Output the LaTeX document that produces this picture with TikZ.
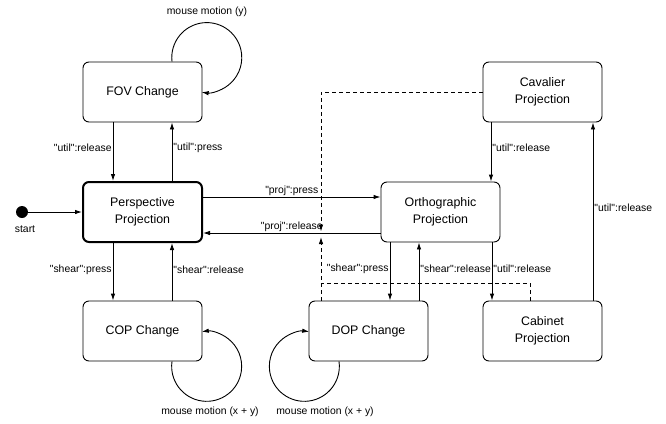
\documentclass[tikz,border=0pt]{standalone}
\usepackage{fontspec}
\setmainfont{Liberation Sans}[Ligatures=TeXOff]
\usetikzlibrary{arrows.meta}

\tikzset{
    state/.style={draw, line width=0.9pt, rounded corners=6pt, minimum width=119pt, minimum height=60pt, align=center, inner sep=2pt, font=\fontsize{12.4}{16.5}\selectfont},
    trans/.style={line width=0.9pt, -{Latex[length=7pt, width=4.5pt]}},
    note/.style={line width=0.9pt, dash pattern=on 4pt off 3pt},
    lbl/.style={font=\fontsize{10.4}{12}\selectfont, inner sep=1pt},
}

\begin{document}
\begin{tikzpicture}[x=1pt, y=-1pt]
    \useasboundingbox (0,0) rectangle (666,423);

    \node[state] (fov) at (142.5, 92) {FOV Change};
    \node[state, line width=2pt] (persp) at (142.5, 212) {Perspective\\Projection};
    \node[state] (cop) at (142.5, 331) {COP Change};
    \node[state] (ortho) at (440.5, 212) {Orthographic\\Projection};
    \node[state] (cav) at (542.5, 92) {Cavalier\\Projection};
    \node[state] (dop) at (368.5, 331) {DOP Change};
    \node[state] (cab) at (542.5, 331) {Cabinet\\Projection};

    \node[circle, fill, inner sep=0pt, minimum size=12pt] (start) at (22, 212) {};
    \node[lbl] (startlbl) at (25, 229) {start};
    \draw[trans] (start) -- (persp);

    % FOV <-> Perspective
    \draw[trans] ([xshift=-29.5pt]fov.south) -- ([xshift=-29.5pt]persp.north) node[lbl, pos=0.43, anchor=east] (utilrel1) {"util":release};
    \draw[trans] ([xshift=29.5pt]persp.north) -- ([xshift=29.5pt]fov.south) node[lbl, pos=0.57, anchor=west] (utilpress) {"util":press};

    % FOV loop
    \draw[trans] ([xshift=29.5pt]fov.north) arc[start angle=173.5, end angle=458.4, radius=35];
    \node[lbl] (fovloop) at (207, 12) {mouse motion (y)};

    % Perspective <-> Orthographic
    \draw[trans] ([yshift=15pt]persp.east) -- ([yshift=15pt]persp.east -| ortho.west) node[lbl, midway, above] (projpress) {"proj":press};
    \draw[trans] ([yshift=-21pt]ortho.west) -- ([yshift=-21pt]persp.east) node[lbl, midway, above] (projrel) {"proj":release};

    % Perspective <-> COP
    \draw[trans] ([xshift=-29.5pt]persp.south) -- ([xshift=-29.5pt]cop.north) node[lbl, pos=0.46, anchor=east] (shearpress1) {"shear":press};
    \draw[trans] ([xshift=29.5pt]cop.north) -- ([xshift=29.5pt]persp.south) node[lbl, pos=0.54, anchor=west] (shearrel1) {"shear":release};

    % COP loop
    \draw[trans] ([xshift=29.5pt]cop.south) arc[start angle=188, end angle=-98, radius=35];
    \node[lbl] (coploop) at (210, 412) {mouse motion (x + y)};

    % Orthographic <-> DOP
    \draw[trans] ([xshift=-50.5pt]ortho.south) -- ([xshift=-50.5pt]ortho.south |- dop.north) node[lbl, pos=0.46, anchor=east] (shearpress2) {"shear":press};
    \draw[trans] ([xshift=-21.5pt]ortho.south |- dop.north) -- ([xshift=-21.5pt]ortho.south) node[lbl, pos=0.54, anchor=west] (shearrel2) {"shear":release};

    % DOP loop
    \draw[trans] ([xshift=-29.5pt]dop.south) arc[start angle=-8, end angle=278, radius=35];
    \node[lbl] (doploop) at (325, 412) {mouse motion (x + y)};

    % Orthographic -> Cabinet -> Cavalier -> Orthographic
    \draw[trans] ([xshift=51.5pt]ortho.south) -- ([xshift=51.5pt]ortho.south |- cab.north) node[lbl, pos=0.46, anchor=west] (utilrel2) {"util":release};
    \draw[trans] ([xshift=50.5pt]cab.north) -- ([xshift=50.5pt]cav.south) node[lbl, pos=0.52, anchor=west] (utilrel3) {"util":release};
    \draw[trans] ([xshift=-51.5pt]cav.south) -- ([xshift=-51.5pt]cav.south |- ortho.north) node[lbl, pos=0.43, anchor=west] (utilrel4) {"util":release};

    % dashed links onto "proj":release
    \coordinate (hook) at (321, 233);
    \coordinate (merge) at (321, 283);
    \draw[note, -{Latex[length=7pt, width=4.5pt]}] (cav.west) -| ([yshift=1.5pt]hook);
    \draw[note, -{Latex[length=7pt, width=4.5pt]}] (hook |- dop.north) -- ([yshift=-4pt]hook);
    \draw[note] ([xshift=-12.5pt]cab.north) |- (merge);

\end{tikzpicture}
\end{document}
